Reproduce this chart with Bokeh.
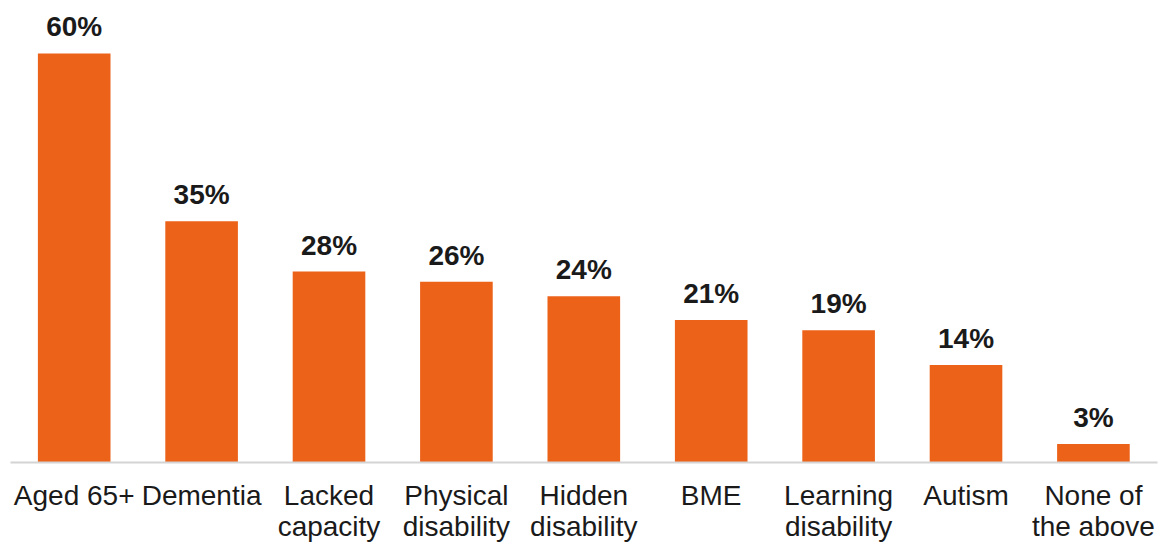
from bokeh.plotting import figure
from bokeh.models import ColumnDataSource, Range1d, FixedTicker, LabelSet
from bokeh.core.properties import value
from bokeh.embed import file_html
from bokeh.resources import INLINE

categories = ["Aged 65+", "Dementia", "Lacked\ncapacity", "Physical\ndisability",
              "Hidden\ndisability", "BME", "Learning\ndisability", "Autism", "None of\nthe above"]
values = [60, 35.4, 28, 26.5, 24.4, 20.9, 19.4, 14.3, 2.7]
labels = [f"{round(v)}%" for v in values]

xs = list(range(len(categories)))
src = ColumnDataSource(dict(x=xs, top=values, lab=labels))

p = figure(width=1160, height=545, output_backend="svg", toolbar_location=None,
           x_range=Range1d(-0.5, 8.503), y_range=Range1d(0, 67.76),
           min_border_left=10, min_border_right=3, min_border_top=0, min_border_bottom=82)
p.outline_line_color = None
p.xgrid.visible = False
p.ygrid.visible = False
p.yaxis.visible = False

p.vbar(x="x", top="top", width=0.57, bottom=0, source=src,
       fill_color="#EC6219", line_color=None)

ax = p.xaxis[0]
ax.ticker = FixedTicker(ticks=xs)
ax.major_label_overrides = {i: c for i, c in enumerate(categories)}
ax.major_tick_line_color = None
ax.minor_tick_line_color = None
ax.major_tick_out = 0
ax.major_tick_in = 0
ax.axis_line_color = "#d4d4d4"
ax.axis_line_width = 2
ax.major_label_standoff = 17
ax.major_label_text_font = "Liberation Sans"
ax.major_label_text_font_size = "28px"
ax.major_label_text_color = "#1a1a1a"
ax.major_label_text_line_height = 1.02
ax.major_label_orientation = "horizontal"

ls = LabelSet(x="x", y="top", text="lab", source=src, text_align="center",
              text_baseline="alphabetic", y_offset=17,
              text_font=value("Liberation Sans"), text_font_style="bold",
              text_font_size=value("28px"), text_color="#1a1a1a")
p.add_layout(ls)

open("out.html", "w").write(file_html(p, INLINE))
